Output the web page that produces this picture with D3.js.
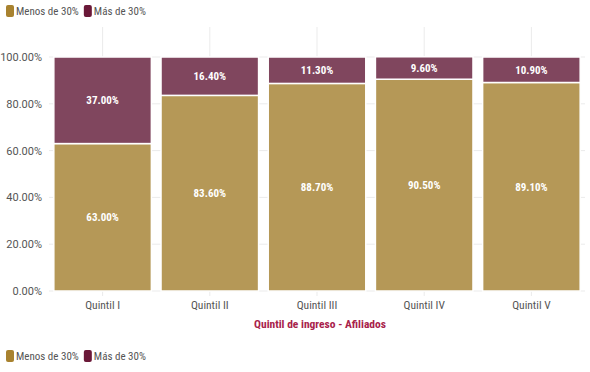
<!DOCTYPE html>
<html>
<head>
<meta charset="utf-8">
<script src="https://cdn.jsdelivr.net/npm/d3@7"></script>
<style>
  body { margin: 0; background: #fff; }
  svg { display: block; font-family: "Roboto Condensed", "Liberation Sans Narrow", Roboto, sans-serif; }
</style>
</head>
<body>
<svg id="chart" width="590" height="372"></svg>
<script>
(function(){
	'use strict';

	var quintiles = ['Quintil I', 'Quintil II', 'Quintil III', 'Quintil IV', 'Quintil V'];
	var menos = [63.0, 83.6, 88.7, 90.5, 89.1];
	var mas = [37.0, 16.4, 11.3, 9.6, 10.9];
	var seriesNames = ['Menos de 30%', 'Más de 30%'];
	var yTicks = [0, 20, 40, 60, 80, 100];

	var barColors = ['#b39552', '#7c4059'];
	var legendColors = ['#a8822f', '#6a1838'];

	var svg = d3.select('#chart');
	var margin = { top: 57, right: 5, bottom: 81, left: 49 };
	var width = 590 - margin.left - margin.right;
	var height = 372 - margin.top - margin.bottom;

	var x = d3.scaleBand().domain(quintiles).range([0, width]).paddingInner(0.09).paddingOuter(0.045);
	var y = d3.scaleLinear().domain([0, 100]).range([height, 0]);

	var g = svg.append('g').attr('transform', 'translate(' + margin.left + ',' + margin.top + ')');

	// grid
	g.selectAll('.hgrid').data(yTicks).enter().append('line')
		.attr('x1', 0).attr('x2', width)
		.attr('y1', function(d){ return y(d); }).attr('y2', function(d){ return y(d); })
		.attr('stroke', '#ebebeb').attr('stroke-width', 1);
	g.selectAll('.vgrid').data(quintiles).enter().append('line')
		.attr('x1', function(d){ return x(d) + x.bandwidth()/2; })
		.attr('x2', function(d){ return x(d) + x.bandwidth()/2; })
		.attr('y1', -30).attr('y2', height + 5)
		.attr('stroke', '#ebebeb').attr('stroke-width', 1);

	// stacked data
	var rows = quintiles.map(function(q, i){ return { q: q, menos: menos[i], mas: mas[i] }; });
	var stack = d3.stack().keys(['menos', 'mas'])(rows);

	var layers = g.selectAll('.layer').data(stack).enter().append('g')
		.attr('fill', function(d, i){ return barColors[i]; });

	layers.selectAll('rect').data(function(d){ return d; }).enter().append('rect')
		.attr('x', function(d){ return x(d.data.q); })
		.attr('width', x.bandwidth())
		.attr('y', function(d){ return y(d[1]); })
		.attr('height', function(d){ return y(d[0]) - y(d[1]); })
		.attr('stroke', '#fff').attr('stroke-width', 1.5)
		.attr('fill-opacity', 0.97);

	layers.selectAll('text').data(function(d){ return d; }).enter().append('text')
		.attr('x', function(d){ return x(d.data.q) + x.bandwidth()/2; })
		.attr('y', function(d){ return (y(d[0]) + y(d[1]))/2; })
		.attr('dy', '0.35em')
		.attr('text-anchor', 'middle')
		.attr('fill', '#fff')
		.attr('font-size', '11px')
		.attr('font-weight', 'bold')
		.text(function(d){ return (d[1] - d[0]).toFixed(2) + '%'; });

	// axes
	var yAxis = g.append('g').call(d3.axisLeft(y).tickValues(yTicks).tickSize(0).tickPadding(7)
		.tickFormat(function(d){ return d.toFixed(2) + '%'; }));
	yAxis.select('.domain').remove();
	yAxis.selectAll('text').attr('font-size', '11px').attr('fill', '#555').attr('font-family', 'Roboto, sans-serif');

	var xAxis = g.append('g').attr('transform', 'translate(0,' + height + ')')
		.call(d3.axisBottom(x).tickSize(0).tickPadding(10));
	xAxis.attr('font-family', null);
	xAxis.select('.domain').remove();
	xAxis.selectAll('text').attr('font-size', '11.5px').attr('fill', '#555');

	g.append('text')
		.attr('x', width/2 + 3).attr('y', height + 37)
		.attr('text-anchor', 'middle')
		.attr('fill', '#a8224b')
		.attr('font-size', '11.5px')
		.attr('font-weight', 'bold')
		.text('Quintil de ingreso - Afiliados');

	// legends
	function drawLegend(yPos){
		var leg = svg.append('g').attr('transform', 'translate(6,' + yPos + ')');
		var xPos = 0;
		seriesNames.forEach(function(name, i){
			leg.append('rect').attr('x', xPos).attr('y', -6).attr('width', 8).attr('height', 12)
				.attr('rx', 2).attr('fill', legendColors[i]);
			var t = leg.append('text').attr('x', xPos + 10).attr('y', 0).attr('dy', '0.35em')
				.attr('font-size', '11px').attr('fill', '#555').text(name);
			xPos += 10 + t.node().getComputedTextLength() + 5;
		});
	}
	drawLegend(11);
	drawLegend(356);

})();
</script>
</body>
</html>
